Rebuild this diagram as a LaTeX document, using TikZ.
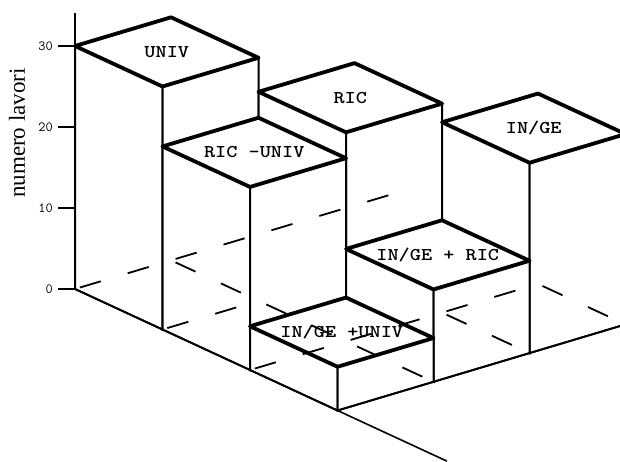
\documentclass[tikz,border=0pt]{standalone}
\usepackage{fontspec}
\setmainfont{Liberation Serif}
\usepackage{graphicx}

% one column of the chart: cell (#1,#2), height #3, node name #4, label #5
\newcommand{\colonna}[5]{%
  \filldraw[fill=white, spigolo] (#1,#2,0) -- (#1+1,#2,0) -- (#1+1,#2,#3) -- (#1,#2,#3) -- cycle;
  \filldraw[fill=white, spigolo] (#1+1,#2,0) -- (#1+1,#2+1,0) -- (#1+1,#2+1,#3) -- (#1+1,#2,#3) -- cycle;
  \filldraw[fill=white, cima] (#1,#2,#3) -- (#1+1,#2,#3) -- (#1+1,#2+1,#3) -- (#1,#2+1,#3) -- cycle;
  \node[etichetta] (#4) at (#1+0.5,#2+0.5,#3) {\scalebox{1.18}[1]{#5}};
}

\begin{document}
\begin{tikzpicture}[
  x={(87.5pt,-40.5pt)}, y={(96pt,28.7pt)}, z={(0pt,8.1pt)},
  cima/.style={line width=3.8pt, line join=round},
  spigolo/.style={line width=2pt},
  pavimento/.style={line width=1.6pt},
  nascosto/.style={line width=1.8pt, dash pattern=on 22pt off 28pt, dash phase=45pt},
  etichetta/.style={font=\fontsize{18}{18}\selectfont\ttfamily\bfseries, inner sep=0pt},
  tacca/.style={font=\fontsize{14}{14}\selectfont\ttfamily, inner sep=0pt, anchor=east}
]
  % page size and margins of the figure
  \useasboundingbox (-75pt,-172pt) rectangle (545pt,289pt);

  % floor corners
  \coordinate (O) at (0,0,0);
  \coordinate (Fsx) at (4.25,0,0);   % end of the left floor edge
  \coordinate (F30) at (3,0,0);
  \coordinate (Fdx) at (3,2.95,0);   % end of the front floor edge
  \coordinate (Top) at (0,0,34.1);   % top of the vertical axis

  % columns, from the back to the front
  \colonna{0}{0}{30}{univ}{UNIV}
  \colonna{1}{1}{25.8}{ric}{RIC}
  \colonna{2}{2}{23.5}{inge}{IN/GE}
  \colonna{1}{0}{22.6}{ricuniv}{RIC -UNIV}
  \colonna{2}{1}{11.4}{ingeric}{IN/GE + RIC}
  \colonna{2}{0}{5.4}{ingeuniv}{IN/GE +UNIV}

  % solid floor edges and vertical axis
  \draw[pavimento] (O) -- (Fsx);
  \draw[pavimento] (F30) -- (Fdx);
  \draw[spigolo] (O) -- (Top);

  % ticks and values
  \foreach \v in {0,10,20,30}{
    \draw[pavimento] (0,0,\v) -- ++(-17pt,0pt) coordinate (tick\v);
    \node[tacca] (val\v) at ([xshift=-5pt]tick\v) {\v};
  }

  % hidden floor lines
  \draw[nascosto] (O) -- (0,3.45,0);
  \draw[nascosto] (0,1,0) -- (3,1,0);
  \draw[nascosto] (1,0,0) -- (1,1,0);
  \draw[nascosto] (2,0,0) -- (2,3,0);
  \draw[nascosto] (2,2,0) -- (3,2,0);
  \draw[nascosto] (2,3,0) -- (3,3,0);

  % axis title
  \node[font=\fontsize{23}{23}\selectfont, rotate=90, anchor=base, inner sep=0pt] (titolo) at (-50pt,156pt) {numero lavori};
\end{tikzpicture}
\end{document}
